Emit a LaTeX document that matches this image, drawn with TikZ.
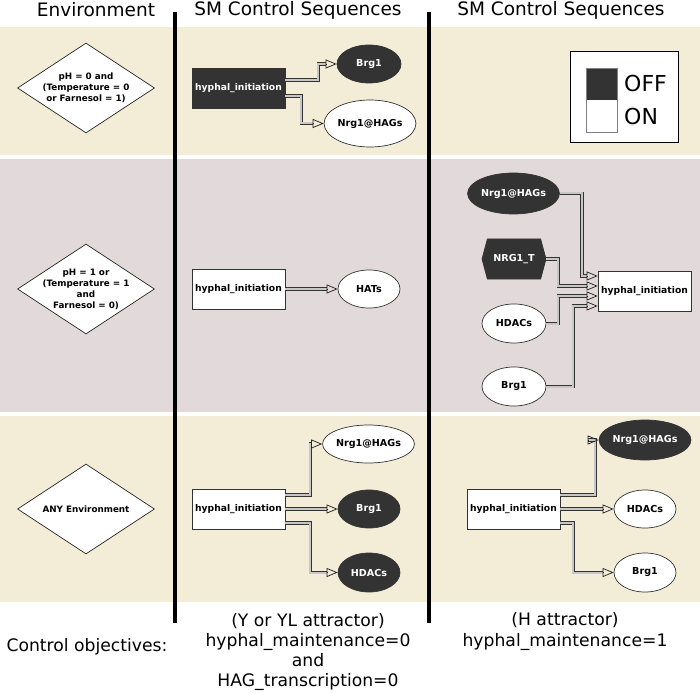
\documentclass[tikz,border=0pt]{standalone}
\usepackage{fontspec}
\setmainfont{DejaVu Sans}
\usetikzlibrary{arrows.meta,shapes.geometric,shapes.symbols,calc}
\definecolor{beige}{HTML}{F3ECD7}
\definecolor{pinkg}{HTML}{E2DADA}
\definecolor{darkf}{HTML}{333333}
\begin{document}
\begin{tikzpicture}[x=1pt,y=-1pt,
 lab/.style={font=\fontsize{9.2}{11}\selectfont\bfseries},
 ellab/.style={font=\fontsize{9.6}{11}\selectfont\bfseries},
 onbox/.style={rectangle, draw=black!80, line width=0.7pt, fill=white, minimum width=93pt, minimum height=40pt, inner sep=0pt, lab},
 offbox/.style={onbox, fill=darkf, text=white},
 onell/.style={ellipse, draw=black!80, line width=0.7pt, fill=white, inner sep=0pt, ellab},
 offell/.style={onell, fill=darkf, text=white},
 diam/.style={diamond, draw=black!85, line width=0.7pt, fill=white, minimum width=137pt, minimum height=90pt, inner sep=0pt},
 dtext/.style={align=center, font=\fontsize{8.8}{11}\selectfont\bfseries},
 conn/.style={draw=black!80, line width=0.75pt, double=black!22, double distance=2pt, shorten >=10.5pt},
 tipa/.style={-{Triangle[open,length=11pt,width=9pt]}, draw=black!85, line width=0.75pt},
 sepline/.style={line width=3.2pt},
 hdr/.style={font=\fontsize{18.5}{22}\selectfont},
 obj/.style={align=center, font=\fontsize{17.2}{20.3}\selectfont, inner sep=0pt}
]
\useasboundingbox (0,0) rectangle (700,692);
% bands
\fill[beige] (0,27) rectangle (700,155);
\fill[pinkg] (0,159) rectangle (700,412);
\fill[beige] (0,416) rectangle (700,602);
% separators
\draw[sepline] (175,12) -- (175,623);
\draw[sepline] (429,12) -- (429,623);
% headers
\node[hdr] (he) at (96,10) {Environment};
\node[hdr] (hs1) at (298,10) {SM Control Sequences};
\node[hdr] (hs2) at (561,10) {SM Control Sequences};

% ---------- Row 1
\node[diam] (d1) at (86,88) {};
\node[dtext] (d1t) at (d1.center) {pH = 0 and\\(Temperature = 0\\or Farnesol = 1)};
\node[offbox] (h1) at (238.5,88) {hyphal\_initiation};
\node[offell, minimum width=64pt, minimum height=38pt] (b1) at (369,64) {Brg1};
\node[onell, minimum width=74pt, minimum height=47pt] (n1) at (370,123.5) {Nrg1@HAGs};
\draw[conn] ([yshift=8pt]h1.east) -- ++(33,0) |- (b1.west);
\draw[tipa] ([xshift=-11pt]b1.west) -- (b1.west);
\draw[conn] ([yshift=-8pt]h1.east) -- ++(16,0) |- (n1.west);
\draw[tipa] ([xshift=-11pt]n1.west) -- (n1.west);
% legend
\draw[black, line width=0.8pt, fill=white] (570,51) rectangle (678,142);
\fill[darkf] (586,68) rectangle (617,100);
\draw[gray, line width=0.8pt] (586,68) rectangle (617,132);
\node[anchor=west, font=\fontsize{22}{24}\selectfont, inner sep=0pt] (loff) at (624,83) {OFF};
\node[anchor=west, font=\fontsize{22}{24}\selectfont, inner sep=0pt] (lon) at (624,116) {ON};

% ---------- Row 2
\node[diam] (d2) at (86,289) {};
\node[dtext] (d2t) at (d2.center) {pH = 1 or\\(Temperature = 1\\and\\Farnesol = 0)};
\node[onbox] (h2) at (238.5,289) {hyphal\_initiation};
\node[onell, minimum width=62pt, minimum height=38pt] (hats) at (369,289) {HATs};
\draw[conn] (h2.east) -- (hats.west);
\draw[tipa] ([xshift=-11pt]hats.west) -- (hats.west);

\node[offell, minimum width=75pt, minimum height=41pt] (n2) at (513.5,193.5) {Nrg1@HAGs};
\node[offell, shape=signal, signal to=west and east, signal pointer angle=150, minimum width=64pt, minimum height=40pt] (nt) at (514,259) {NRG1\_T};
\node[onell, minimum width=64pt, minimum height=39pt] (hd2) at (514,323.5) {HDACs};
\node[onell, minimum width=64pt, minimum height=39pt] (b2) at (514,386.5) {Brg1};
\node[onbox] (h3) at (644.5,291) {hyphal\_initiation};
\draw[conn] (n2.east) -- ++(22,0) |- ([yshift=15pt]h3.west);
\draw[conn] (nt.east) -- ++(12,0) |- ([yshift=5pt]h3.west);
\draw[conn] (hd2.east) -- ++(12,0) |- ([yshift=-5pt]h3.west);
\draw[conn] (b2.east) -- ++(27,0) |- ([yshift=-15pt]h3.west);
\draw[tipa] ([xshift=-11pt,yshift=15pt]h3.west) -- ([yshift=15pt]h3.west);
\draw[tipa] ([xshift=-11pt,yshift=5pt]h3.west) -- ([yshift=5pt]h3.west);
\draw[tipa] ([xshift=-11pt,yshift=-5pt]h3.west) -- ([yshift=-5pt]h3.west);
\draw[tipa] ([xshift=-11pt,yshift=-15pt]h3.west) -- ([yshift=-15pt]h3.west);

% ---------- Row 3
\node[diam] (d3) at (86,509) {};
\node[dtext] (d3t) at (d3.center) {ANY Environment};
\node[onbox] (h4) at (238.5,509) {hyphal\_initiation};
\node[onell, minimum width=73pt, minimum height=38pt] (n3) at (368.5,444) {Nrg1@HAGs};
\node[offell, minimum width=62pt, minimum height=38pt] (b3) at (369,509) {Brg1};
\node[offell, minimum width=62pt, minimum height=39pt] (hd3) at (369,572.5) {HDACs};
\draw[conn] ([yshift=14pt]h4.east) -- ++(25,0) |- (n3.west);
\draw[tipa] ([xshift=-11pt]n3.west) -- (n3.west);
\draw[conn] (h4.east) -- (b3.west);
\draw[tipa] ([xshift=-11pt]b3.west) -- (b3.west);
\draw[conn] ([yshift=-14pt]h4.east) -- ++(25,0) |- (hd3.west);
\draw[tipa] ([xshift=-11pt]hd3.west) -- (hd3.west);

\node[onbox] (h5) at (513.5,509) {hyphal\_initiation};
\node[offell, minimum width=74pt, minimum height=40pt] (n4) at (645,440) {Nrg1@HAGs};
\node[onell, minimum width=62pt, minimum height=38pt] (hd4) at (645,509) {HDACs};
\node[onell, minimum width=62pt, minimum height=39pt] (b4) at (645,572.5) {Brg1};
\draw[conn] ([yshift=14pt]h5.east) -- ++(35,0) |- (n4.west);
\draw[tipa] ([xshift=-11pt]n4.west) -- (n4.west);
\draw[conn] (h5.east) -- (hd4.west);
\draw[tipa] ([xshift=-11pt]hd4.west) -- (hd4.west);
\draw[conn] ([yshift=-14pt]h5.east) -- ++(13,0) |- (b4.west);
\draw[tipa] ([xshift=-11pt]b4.west) -- (b4.west);

% ---------- objectives
\node[obj, anchor=base] (co) at (87,651) {Control objectives:};
\node[obj] (o1) at (308,652) {(Y or YL attractor)\\hyphal\_maintenance=0\\and\\HAG\_transcription=0};
\node[obj] (o2) at (565,631.5) {(H attractor)\\hyphal\_maintenance=1};
\end{tikzpicture}
\end{document}
